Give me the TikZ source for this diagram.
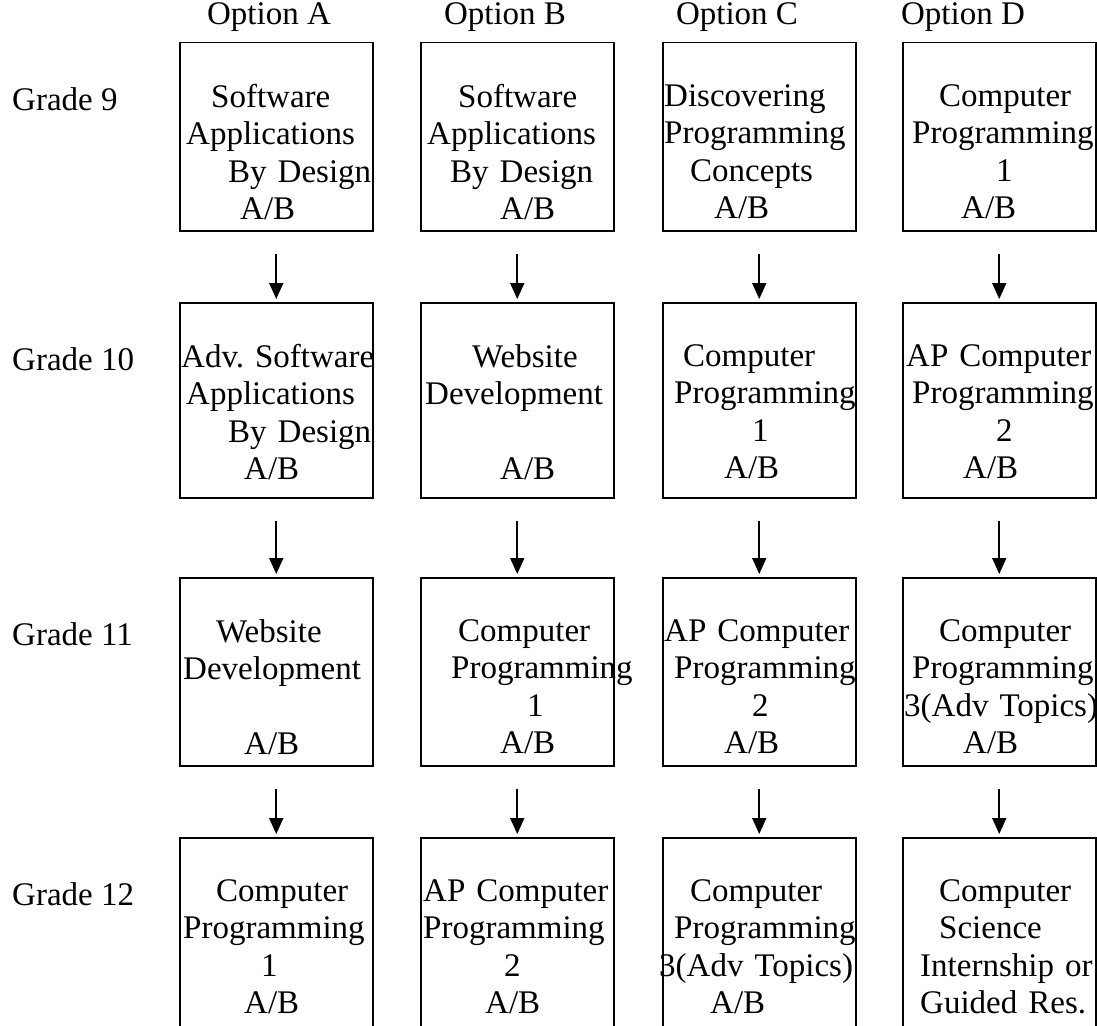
\documentclass[tikz,border=0pt]{standalone}
\usepackage{fontspec}
\setmainfont{Liberation Serif}
\usetikzlibrary{arrows.meta,positioning}

\tikzset{
  course/.style={draw,line width=1.5pt,minimum width=193pt,minimum height=188pt,inner sep=0pt,anchor=north west},
  lastcourse/.style={course,minimum height=260pt},
  lines/.style={anchor=north west,align=left,text width=240pt,inner sep=0pt},
  nextarrow/.style={line width=1.8pt,-{Triangle[length=16pt,width=14pt]},shorten <=22pt,shorten >=3pt},
  heading/.style={inner sep=0pt}
}
\newcommand{\ind}[1]{\hspace*{#1pt}}

\begin{document}
\begin{tikzpicture}[x=1pt,y=-1pt,font=\fontsize{33}{37.5}\selectfont]
\clip (0,0) rectangle (1097,1025);

% column headings
\node[heading] (optA) at (269,17) {Option A};
\node[heading] (optB) at (505,17) {Option B};
\node[heading] (optC) at (737,17) {Option C};
\node[heading] (optD) at (963,17) {Option D};

% row headings
\node[heading,anchor=west] (g9) at (12,99) {Grade 9};
\node[heading,anchor=west] (g10) at (12,359) {Grade 10};
\node[heading,anchor=west] (g11) at (12,634) {Grade 11};
\node[heading,anchor=west] (g12) at (12,894) {Grade 12};

% boxes
\node[course] (a1) at (179,42) {};
\node[course] (a2) at (420,42) {};
\node[course] (a3) at (662,42) {};
\node[course] (a4) at (902,42) {};
\node[course,minimum height=195pt] (b1) at (179,302) {};
\node[course,minimum height=195pt] (b2) at (420,302) {};
\node[course,minimum height=195pt] (b3) at (662,302) {};
\node[course,minimum height=195pt] (b4) at (902,302) {};
\node[course] (c1) at (179,577) {};
\node[course] (c2) at (420,577) {};
\node[course] (c3) at (662,577) {};
\node[course] (c4) at (902,577) {};
\node[lastcourse] (d1) at (179,837) {};
\node[lastcourse] (d2) at (420,837) {};
\node[lastcourse] (d3) at (662,837) {};
\node[lastcourse] (d4) at (902,837) {};

% texts
\node[lines] (ta1) at ([yshift=-42pt]a1.north west) {\ind{32}Software\\\ind{7}Applications\\\ind{49}By Design\\\ind{61}A/B};
\node[lines] (ta2) at ([yshift=-42pt]a2.north west) {\ind{38}Software\\\ind{7}Applications\\\ind{30}By Design\\\ind{80}A/B};
\node[lines] (ta3) at ([yshift=-42pt]a3.north west) {\ind{2}Discovering\\\ind{2}Programming\\\ind{28}Concepts\\\ind{52}A/B};
\node[lines] (ta4) at ([yshift=-42pt]a4.north west) {\ind{37}Computer\\\ind{10}Programming\\\ind{94}1\\\ind{59}A/B};

\node[lines] (tb1) at ([yshift=-42pt]b1.north west) {\ind{2}Adv.\ Software\\\ind{7}Applications\\\ind{49}By Design\\\ind{65}A/B};
\node[lines] (tb2) at ([yshift=-42pt]b2.north west) {\ind{52}Website\\\ind{5}Development\\\mbox{}\\\ind{80}A/B};
\node[lines] (tb3) at ([yshift=-42pt]b3.north west) {\ind{21}Computer\\\ind{12}Programming\\\ind{90}1\\\ind{62}A/B};
\node[lines] (tb4) at ([yshift=-42pt]b4.north west) {\ind{4}AP Computer\\\ind{10}Programming\\\ind{94}2\\\ind{61}A/B};

\node[lines] (tc1) at ([yshift=-42pt]c1.north west) {\ind{37}Website\\\ind{4}Development\\\mbox{}\\\ind{65}A/B};
\node[lines] (tc2) at ([yshift=-42pt]c2.north west) {\ind{38}Computer\\\ind{31}Programming\\\ind{107}1\\\ind{80}A/B};
\node[lines] (tc3) at ([yshift=-42pt]c3.north west) {\ind{2}AP Computer\\\ind{12}Programming\\\ind{90}2\\\ind{62}A/B};
\node[lines] (tc4) at ([yshift=-42pt]c4.north west) {\ind{37}Computer\\\ind{10}Programming\\\ind{2}3(Adv Topics)\\\ind{61}A/B};

\node[lines] (td1) at ([yshift=-42pt]d1.north west) {\ind{37}Computer\\\ind{4}Programming\\\ind{82}1\\\ind{65}A/B};
\node[lines] (td2) at ([yshift=-42pt]d2.north west) {\ind{3}AP Computer\\\ind{3}Programming\\\ind{84}2\\\ind{65}A/B};
\node[lines] (td3) at ([yshift=-42pt]d3.north west) {\ind{28}Computer\\\ind{12}Programming\\\hspace*{-3pt}3(Adv Topics)\\\ind{48}A/B};
\node[lines] (td4) at ([yshift=-42pt]d4.north west) {\ind{37}Computer\\\ind{37}Science\\\ind{18}Internship or\\\ind{18}Guided Res.};

% arrows
\foreach \c in {1,2,3,4}{
\draw[nextarrow] (a\c.south) -- (b\c.north);
\draw[nextarrow] (b\c.south) -- (c\c.north);
\draw[nextarrow] (c\c.south) -- (d\c.north);}

\end{tikzpicture}
\end{document}
